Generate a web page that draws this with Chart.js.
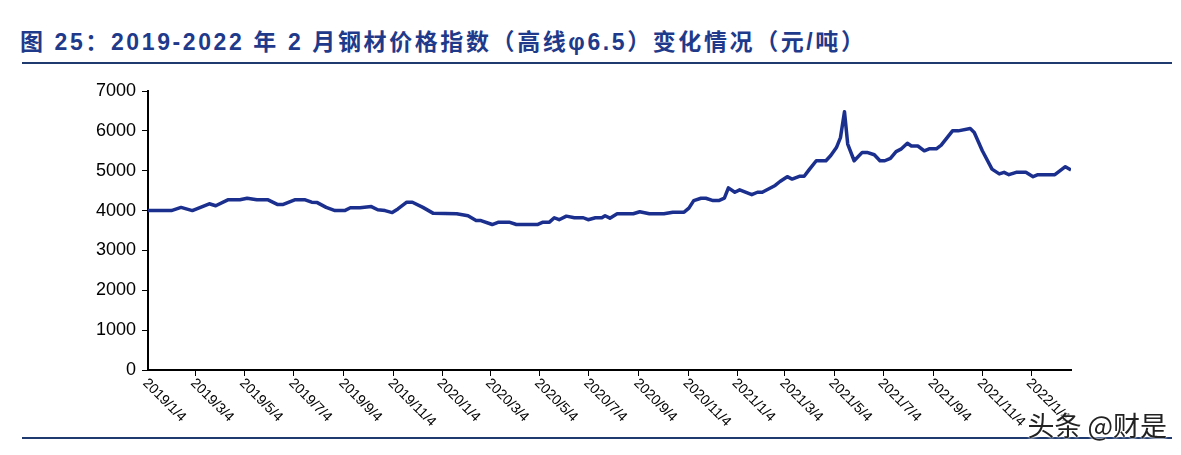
<!DOCTYPE html>
<html>
<head>
<meta charset="utf-8">
<script src="https://cdn.jsdelivr.net/npm/chart.js"></script>
<style>
  body { margin: 0; background: #fff; width: 1181px; height: 455px; overflow: hidden; position: relative; font-family: "Liberation Sans", Arial, sans-serif; }
  #title { position: absolute; left: 20px; top: 23px; font: bold 23px "Liberation Sans", "Noto Sans CJK SC", sans-serif; color: #1f3a8a; letter-spacing: 2.6px; }
  .rule { position: absolute; left: 22px; width: 1150px; height: 2px; background: #1f3a6e; }
  #wm { position: absolute; right: 14px; top: 405px; font: 27px "Noto Sans CJK SC", sans-serif; color: #222; text-shadow: 0 0 3px #fff, 0 0 3px #fff; }
  #wrap { position: absolute; left: 0; top: 0; width: 1181px; height: 455px; }
</style>
</head>
<body>
<div id="title">图 25：2019-2022 年 2 月钢材价格指数（高线φ6.5）变化情况（元/吨）</div>
<div class="rule" style="top:62px"></div>
<div class="rule" style="top:437px"></div>
<div id="wrap"><canvas id="chart"></canvas></div>
<div id="wm">头条 @财是</div>
<script>
// days since 2019/1/4
const days = [0,29,41,55,76,84,99,114,123,135,149,161,167,182,195,203,210,221,232,244,251,263,277,285,294,303,310,321,328,341,354,383,397,407,413,427,435,448,457,483,490,498,504,510,519,529,540,546,555,563,567,573,582,602,610,622,640,651,
  665,671,677,686,692,701,708,715,720,728,734,749,756,762,778,784,793,799,808,814,820,829,841,847,854,859,864,868,876,886,892,901,908,914,921,928,934,942,947,955,963,969,978,984,998,1005,1020,1025,1035,1047,1056,1062,1068,1077,1089,1098,1104,1125,1138,1145];
const prices = [4000,4000,4080,4000,4170,4120,4270,4270,4310,4270,4270,4150,4150,4270,4270,4210,4200,4080,4000,4000,4070,4070,4100,4020,4000,3950,4040,4210,4210,4080,3930,3920,3870,3750,3750,3650,3710,3710,3650,3650,3710,3710,3820,3770,3860,3820,3820,3770,3820,3820,3870,3810,3920,3920,3970,3920,3920,3960,
  3960,4060,4250,4310,4310,4250,4250,4310,4570,4460,4520,4400,4460,4460,4630,4730,4850,4790,4860,4860,5020,5250,5250,5380,5580,5830,6480,5670,5250,5460,5460,5400,5250,5250,5310,5480,5540,5690,5620,5620,5500,5550,5550,5640,6000,6000,6060,5960,5500,5040,4920,4960,4900,4960,4960,4850,4900,4900,5100,5020];
const tickLabels = ['2019/1/4','2019/3/4','2019/5/4','2019/7/4','2019/9/4','2019/11/4','2020/1/4','2020/3/4','2020/5/4','2020/7/4','2020/9/4','2020/11/4','2021/1/4','2021/3/4','2021/5/4','2021/7/4','2021/9/4','2021/11/4','2022/1/4'];
const tickDays = [0,59,120,181,243,304,365,425,486,547,609,670,731,790,851,912,974,1035,1096];

const dateLabels = {
  id: 'dateLabels',
  afterDraw(chart) {
    const ctx = chart.ctx, x = chart.scales.x;
    ctx.save();
    ctx.fillStyle = '#000';
    ctx.font = '14px "Liberation Sans", Arial, sans-serif';
    ctx.textAlign = 'left';
    ctx.textBaseline = 'top';
    tickLabels.forEach((t, i) => {
      ctx.save();
      ctx.translate(x.getPixelForValue(tickDays[i]) + 2, 376);
      ctx.rotate(Math.PI / 4);
      ctx.fillText(t, 0, 0);
      ctx.restore();
    });
    ctx.restore();
  }
};

new Chart(document.getElementById('chart'), {
  type: 'line',
  data: {
    datasets: [{
      data: days.map((d, i) => ({x: d, y: prices[i]})),
      borderColor: '#1b2f8e',
      borderWidth: 3.5,
      borderJoinStyle: 'round',
      pointRadius: 0,
      tension: 0,
    }]
  },
  options: {
    responsive: true,
    maintainAspectRatio: false,
    animation: false,
    layout: { padding: { left: 0, top: 91, right: 110, bottom: 85 } },
    plugins: { legend: { display: false }, tooltip: { enabled: false } },
    scales: {
      x: {
        type: 'linear', min: 0, max: 1145,
        afterBuildTicks: s => { s.ticks = tickDays.slice(1).map(v => ({value: v})); },
        afterFit: s => { s.height = 0; },
        ticks: { callback: () => '', padding: 0 },
        grid: { drawOnChartArea: false, drawTicks: true, tickLength: 6, color: '#000', lineWidth: 1 },
        border: { color: '#000', width: 2 }
      },
      y: {
        min: 0, max: 7000,
        afterFit: s => { s.width = 148; },
        ticks: { stepSize: 1000, color: '#000', callback: v => String(v), font: { size: 18, family: '"Liberation Sans", Arial, sans-serif' }, padding: 6 },
        grid: { drawOnChartArea: false, drawTicks: true, tickLength: 6, color: '#000' },
        border: { color: '#000', width: 2 }
      }
    }
  },
  plugins: [dateLabels]
});
</script>
</body>
</html>
